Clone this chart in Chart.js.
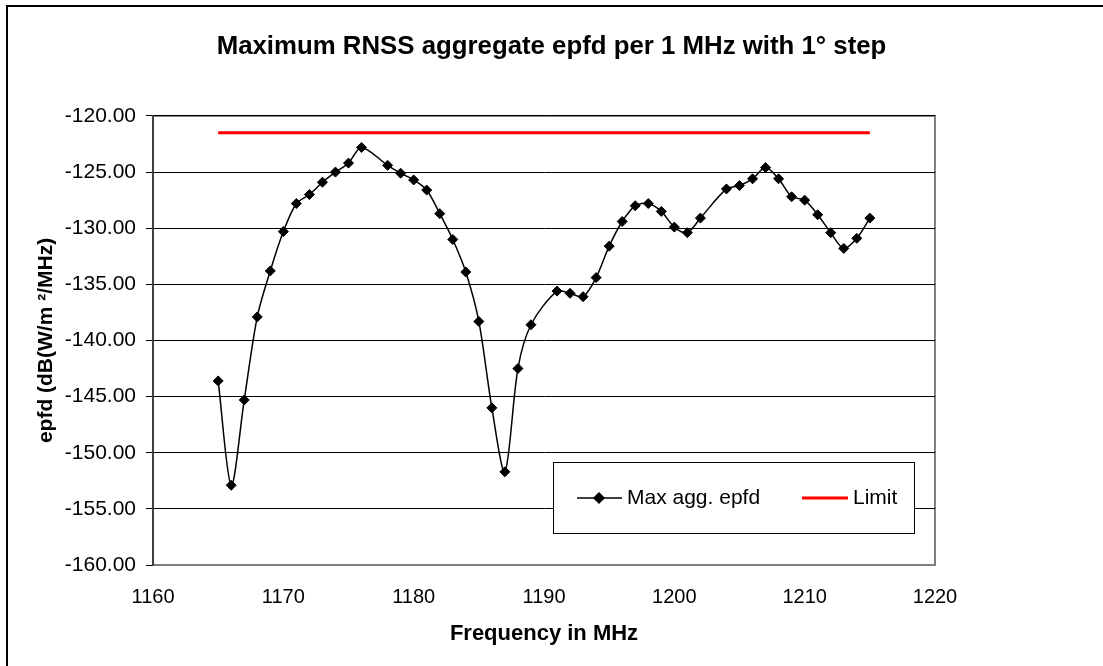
<!DOCTYPE html>
<html>
<head>
<meta charset="utf-8">
<script src="https://cdn.jsdelivr.net/npm/chart.js@4/dist/chart.umd.min.js"></script>
<style>
  html, body { margin: 0; padding: 0; background: #fff; }
  #wrap { width: 1103px; height: 666px; position: relative; }
</style>
</head>
<body>
<div id="wrap"><canvas id="c" width="1103" height="666"></canvas></div>
<script>
const frequencies = [1165, 1166, 1167, 1168, 1169, 1170, 1171, 1172, 1173, 1174, 1175, 1176,
  1178, 1179, 1180, 1181, 1182, 1183, 1184, 1185, 1186, 1187, 1188, 1189,
  1191, 1192, 1193, 1194, 1195, 1196, 1197, 1198, 1199, 1200, 1201, 1202,
  1204, 1205, 1206, 1207, 1208, 1209, 1210, 1211, 1212, 1213, 1214, 1215];
const maxAggEpfd = [-143.6, -152.9, -145.3, -137.9, -133.8, -130.3, -127.8, -127.0, -125.9, -125.0, -124.2, -122.8,
  -124.4, -125.1, -125.7, -126.6, -128.7, -131.0, -133.9, -138.3, -146.0, -151.7, -142.5, -138.6,
  -135.6, -135.8, -136.1, -134.4, -131.6, -129.4, -128.0, -127.8, -128.5, -129.9, -130.4, -129.1,
  -126.5, -126.2, -125.6, -124.6, -125.6, -127.2, -127.5, -128.8, -130.4, -131.8, -130.9, -129.1];
const limitFreq = [1165, 1215];
const limitValue = [-121.5, -121.5];
const xTicks = [1160, 1170, 1180, 1190, 1200, 1210, 1220];
const yTicks = [-120, -125, -130, -135, -140, -145, -150, -155, -160];
const seriesNames = ['Max agg. epfd', 'Limit'];

const FONT = "'Liberation Sans', Arial, sans-serif";

const frame = {
  id: 'frame',
  beforeDraw(chart) {
    const ctx = chart.ctx;
    ctx.save();
    ctx.fillStyle = '#fff';
    ctx.fillRect(0, 0, chart.width, chart.height);
    ctx.strokeStyle = '#000';
    ctx.lineWidth = 2;
    ctx.strokeRect(7, 6, chart.width + 20, chart.height + 20);
    const a = chart.chartArea;
    ctx.strokeStyle = '#808080';
    ctx.lineWidth = 2;
    ctx.strokeRect(a.left, a.top, a.right - a.left, a.bottom - a.top);
    ctx.restore();
  },
  afterDraw(chart) {
    const ctx = chart.ctx;
    const a = chart.chartArea;
    const bx = a.right - 382, by = a.bottom - 103, bw = 361, bh = 71;
    ctx.save();
    ctx.fillStyle = '#fff';
    ctx.fillRect(bx, by, bw, bh);
    ctx.strokeStyle = '#000';
    ctx.lineWidth = 1;
    ctx.strokeRect(bx + 0.5, by + 0.5, bw, bh);
    const cy = by + 36;
    const ds0 = chart.data.datasets[0], ds1 = chart.data.datasets[1];
    ctx.strokeStyle = ds0.borderColor;
    ctx.lineWidth = ds0.borderWidth;
    ctx.beginPath(); ctx.moveTo(bx + 24, cy); ctx.lineTo(bx + 69, cy); ctx.stroke();
    Chart.helpers.drawPoint(ctx, {pointStyle: 'rectRot', radius: 5, borderWidth: 1}, bx + 46, cy);
    ctx.fillStyle = '#000';
    ctx.fill();
    ctx.font = '21px ' + FONT;
    ctx.textBaseline = 'middle';
    ctx.textAlign = 'left';
    ctx.fillText(ds0.label, bx + 74, cy);
    ctx.strokeStyle = ds1.borderColor;
    ctx.lineWidth = ds1.borderWidth;
    ctx.beginPath(); ctx.moveTo(bx + 249, cy); ctx.lineTo(bx + 295, cy); ctx.stroke();
    ctx.fillStyle = '#000';
    ctx.fillText(ds1.label, bx + 300, cy);
    ctx.restore();
  }
};

new Chart(document.getElementById('c'), {
  type: 'line',
  data: {
    datasets: [
      {
        label: seriesNames[0],
        data: frequencies.map((f, i) => ({x: f, y: maxAggEpfd[i]})),
        borderColor: '#000',
        borderWidth: 1.5,
        backgroundColor: '#000',
        pointStyle: 'rectRot',
        pointRadius: 5,
        pointBorderWidth: 1,
        pointBackgroundColor: '#000',
        pointBorderColor: '#000',
        tension: 0.3,
        fill: false
      },
      {
        label: seriesNames[1],
        data: limitFreq.map((f, i) => ({x: f, y: limitValue[i]})),
        borderColor: '#ff0000',
        borderWidth: 3,
        pointRadius: 0,
        tension: 0,
        fill: false
      }
    ]
  },
  options: {
    responsive: false,
    animation: false,
    devicePixelRatio: 1,
    layout: { padding: 0 },
    plugins: {
      legend: { display: false },
      tooltip: { enabled: false },
      title: {
        display: true,
        text: 'Maximum RNSS aggregate epfd per 1 MHz with 1° step',
        color: '#000',
        font: { family: FONT, size: 25.8, weight: 'bold' },
        padding: { top: 31, bottom: 54 }
      }
    },
    scales: {
      x: {
        type: 'linear',
        min: xTicks[0],
        max: xTicks[xTicks.length - 1],
        afterBuildTicks(scale) { scale.ticks = xTicks.map(v => ({value: v})); },
        afterFit(scale) { scale.height = 101; },
        grid: { display: false, drawTicks: false },
        border: { display: false },
        ticks: {
          color: '#000',
          font: { family: FONT, size: 20 },
          padding: 20,
          maxRotation: 0,
          callback: v => String(v)
        },
        title: {
          display: true,
          text: 'Frequency in MHz',
          color: '#000',
          font: { family: FONT, size: 22, weight: 'bold' },
          padding: { top: 0, bottom: 19 }
        }
      },
      y: {
        type: 'linear',
        min: yTicks[yTicks.length - 1],
        max: yTicks[0],
        afterBuildTicks(scale) { scale.ticks = yTicks.slice().reverse().map(v => ({value: v})); },
        afterFit(scale) { scale.width = 153; },
        grid: {
          color: ctx => (ctx.tick && ctx.tick.value === -160) ? '#808080' : '#000',
          lineWidth: 1,
          tickLength: 7,
          drawTicks: true,
          tickColor: '#000'
        },
        border: { display: true, color: '#404040', width: 2 },
        ticks: {
          color: '#000',
          font: { family: FONT, size: 21 },
          padding: 10,
          callback: v => v.toFixed(2)
        },
        title: {
          display: true,
          text: 'epfd (dB(W/m ²/MHz)',
          color: '#000',
          font: { family: FONT, size: 21, weight: 'bold' },
          padding: { top: 34, bottom: 0 }
        }
      },
      margin: {
        type: 'linear',
        position: 'right',
        display: true,
        afterFit(scale) { scale.width = 168; },
        grid: { display: false, drawTicks: false },
        border: { display: false },
        ticks: { display: false },
        title: { display: false }
      }
    }
  },
  plugins: [frame]
});
</script>
</body>
</html>
